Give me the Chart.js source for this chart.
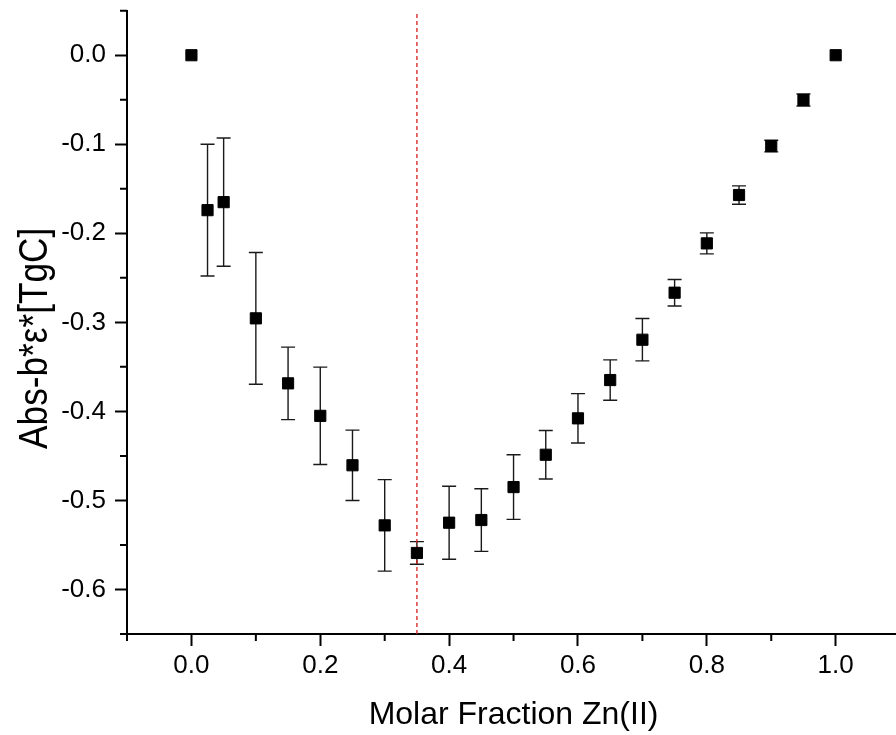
<!DOCTYPE html>
<html>
<head>
<meta charset="utf-8">
<script src="https://cdn.jsdelivr.net/npm/chart.js@4.4.1/dist/chart.umd.min.js"></script>
<style>
  html, body { margin: 0; padding: 0; background: #fff; overflow: hidden; }
  #wrap { position: relative; width: 909px; height: 735px; }
</style>
</head>
<body>
<div id="wrap"><canvas id="c" width="909" height="735"></canvas></div>
<script>
// Job plot: corrected absorbance vs. molar fraction of Zn(II)
const molarFraction = [0, 0.025, 0.05, 0.1, 0.15, 0.2, 0.25, 0.3, 0.35, 0.4, 0.45,
                       0.5, 0.55, 0.6, 0.65, 0.7, 0.75, 0.8, 0.85, 0.9, 0.95, 1.0];
const signal = [0, -0.174, -0.165, -0.2955, -0.3685, -0.405, -0.4605, -0.528, -0.559, -0.525, -0.522,
                -0.485, -0.4487, -0.4078, -0.3648, -0.3195, -0.2667, -0.2113, -0.157, -0.102, -0.0503, 0];
const signalError = [0, 0.074, 0.072, 0.074, 0.0407, 0.0547, 0.0395, 0.0514, 0.0127, 0.041, 0.0352,
                     0.0363, 0.0273, 0.0277, 0.0227, 0.0238, 0.0149, 0.0118, 0.0103, 0.0065, 0.0067, 0];
const stoichiometryMark = 0.35;

const xMajorTicks = [0, 0.2, 0.4, 0.6, 0.8, 1.0];
const xMinorTicks = [-0.1, 0.1, 0.3, 0.5, 0.7, 0.9, 1.1];
const yMajorTicks = [0, -0.1, -0.2, -0.3, -0.4, -0.5, -0.6];
const yMinorTicks = [0.05, -0.05, -0.15, -0.25, -0.35, -0.45, -0.55, -0.65];

const xTitle = 'Molar Fraction Zn(II)';
const yTitle = 'Abs-b*ε*[TgC]';

const FONT = '"Liberation Sans", Arial, sans-serif';

// vertical error bars with caps, drawn beneath the markers
const errorBars = {
  id: 'errorBars',
  beforeDatasetsDraw(chart) {
    const { ctx, scales: { x, y } } = chart;
    ctx.save();
    ctx.strokeStyle = '#1a1a1a';
    ctx.lineWidth = 1.4;
    molarFraction.forEach((m, i) => {
      const e = signalError[i];
      if (!e) return;
      const px = x.getPixelForValue(m);
      const top = y.getPixelForValue(signal[i] + e);
      const bot = y.getPixelForValue(signal[i] - e);
      ctx.beginPath();
      ctx.moveTo(px, top); ctx.lineTo(px, bot);
      ctx.moveTo(px - 7, top); ctx.lineTo(px + 7, top);
      ctx.moveTo(px - 7, bot); ctx.lineTo(px + 7, bot);
      ctx.stroke();
    });
    ctx.restore();
  }
};

// short outward minor ticks between the labelled ones
const minorTicks = {
  id: 'minorTicks',
  afterDraw(chart) {
    const { ctx, scales: { x, y }, chartArea } = chart;
    ctx.save();
    ctx.strokeStyle = '#000';
    ctx.lineWidth = 2;
    ctx.beginPath();
    xMinorTicks.forEach(v => {
      const px = x.getPixelForValue(v);
      ctx.moveTo(px, chartArea.bottom);
      ctx.lineTo(px, chartArea.bottom + 7);
    });
    yMinorTicks.forEach(v => {
      const py = y.getPixelForValue(v);
      ctx.moveTo(chartArea.left, py);
      ctx.lineTo(chartArea.left - 7, py);
    });
    ctx.stroke();
    ctx.restore();
  }
};

// condensed, rotated title for the value axis
const yAxisTitle = {
  id: 'yAxisTitle',
  afterDraw(chart) {
    const { ctx, chartArea } = chart;
    ctx.save();
    ctx.translate(32, (chartArea.top + chartArea.bottom) / 2 + 16);
    ctx.rotate(-Math.PI / 2);
    ctx.scale(0.88, 1);
    ctx.font = '40px ' + FONT;
    ctx.fillStyle = '#000';
    ctx.textAlign = 'center';
    ctx.textBaseline = 'alphabetic';
    ctx.fillText(yTitle, 0, 14.5);
    ctx.restore();
  }
};

const tickGrid = {
  display: true, drawOnChartArea: false, drawTicks: true,
  tickLength: 12, tickWidth: 2, tickColor: '#000'
};

new Chart(document.getElementById('c'), {
  type: 'scatter',
  data: {
    datasets: [
      {
        label: 'Abs',
        data: molarFraction.map((m, i) => ({ x: m, y: signal[i] })),
        pointStyle: 'rect',
        pointRadius: 7.9,
        borderWidth: 1,
        backgroundColor: '#000',
        borderColor: '#000',
        showLine: false,
        order: 0
      },
      {
        type: 'line',
        label: 'stoichiometry',
        data: [{ x: stoichiometryMark, y: -0.65 }, { x: stoichiometryMark, y: 0.05 }],
        borderColor: 'rgb(215,30,30)',
        borderWidth: 1.3,
        borderDash: [4, 3],
        pointRadius: 0,
        fill: false,
        order: 1
      }
    ]
  },
  options: {
    responsive: false,
    animation: false,
    devicePixelRatio: 1,
    layout: { padding: { top: 10.7, right: 3, left: 0, bottom: 0 } },
    plugins: { legend: { display: false }, tooltip: { enabled: false } },
    scales: {
      x: {
        type: 'linear', position: 'bottom', min: -0.1, max: 1.1,
        afterBuildTicks: s => { s.ticks = xMajorTicks.map(v => ({ value: v })); },
        afterFit: s => { s.height = 101; s.paddingLeft = 0; s.paddingRight = 0; },
        ticks: {
          color: '#000', padding: 4, maxRotation: 0, autoSkip: false,
          font: { family: FONT, size: 26 },
          callback: v => Number(v).toFixed(1)
        },
        grid: tickGrid,
        border: { display: true, color: '#000', width: 2 },
        title: {
          display: true, text: xTitle, color: '#000',
          font: { family: FONT, size: 32 }, padding: { top: 0, bottom: 1 }
        }
      },
      y: {
        type: 'linear', position: 'left', min: -0.65, max: 0.05,
        afterBuildTicks: s => { s.ticks = yMajorTicks.map(v => ({ value: v })); },
        afterFit: s => { s.width = 127; s.paddingTop = 0; s.paddingBottom = 0; },
        ticks: {
          color: '#000', padding: 9,
          font: { family: FONT, size: 26 },
          callback: v => Number(v).toFixed(1)
        },
        grid: tickGrid,
        border: { display: true, color: '#000', width: 2 },
        title: { display: false }
      }
    }
  },
  plugins: [errorBars, minorTicks, yAxisTitle]
});
</script>
</body>
</html>
